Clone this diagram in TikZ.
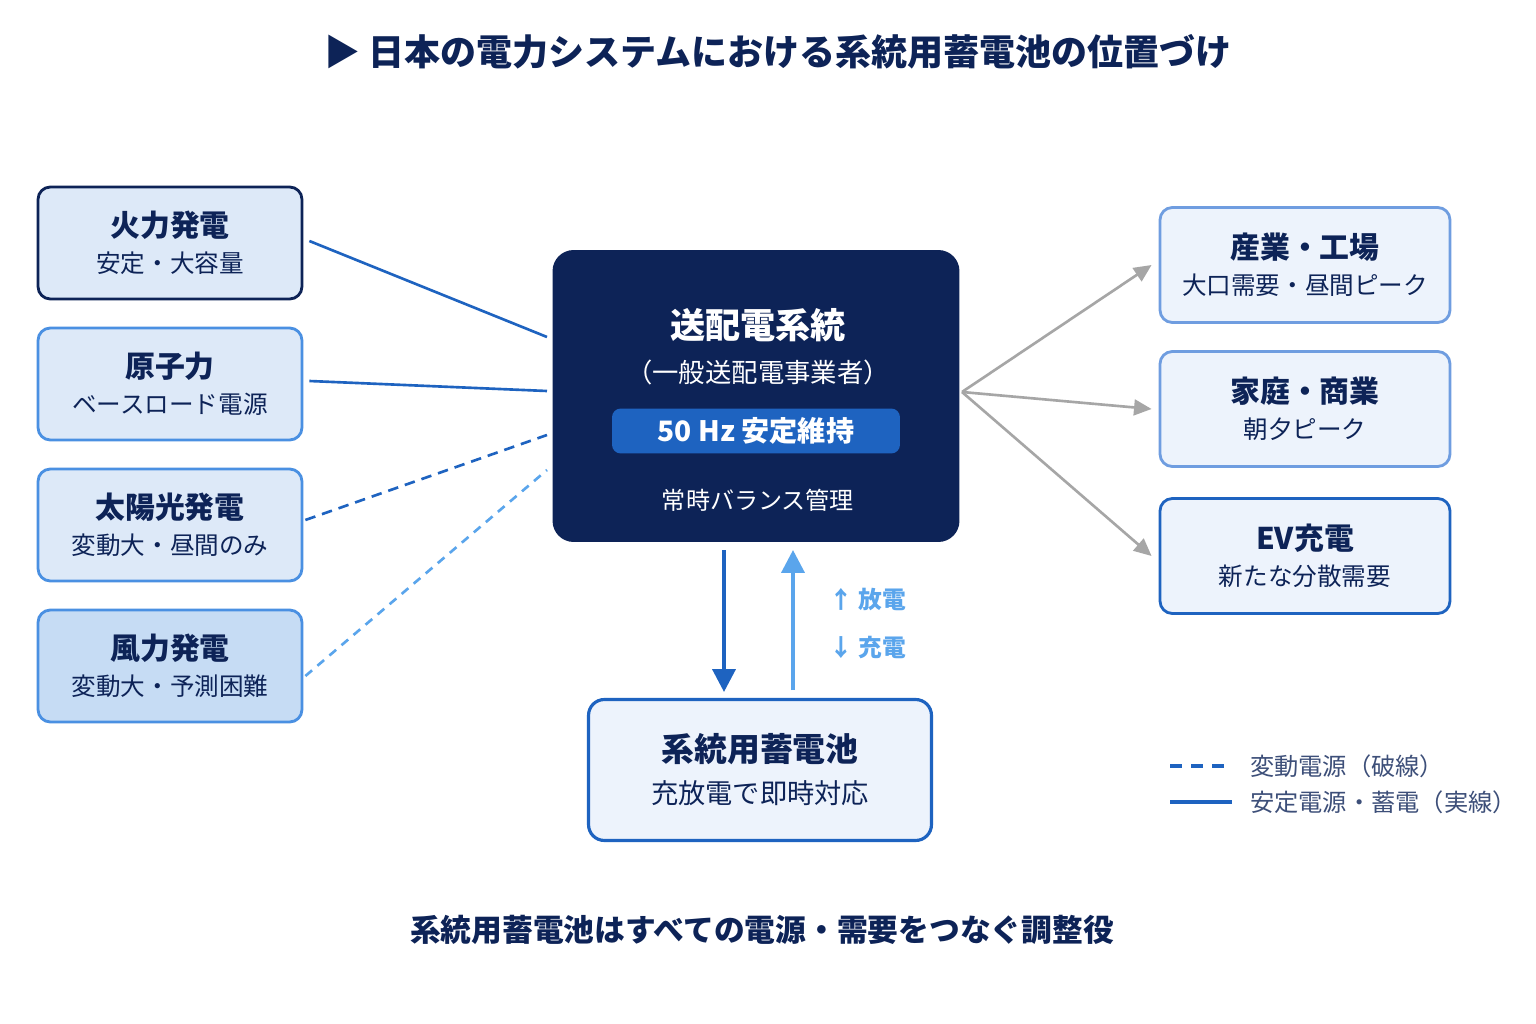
\documentclass[tikz,border=0pt]{standalone}
\usepackage{fontspec}
\setmainfont{Noto Sans CJK JP}
\usetikzlibrary{arrows.meta,positioning}
\definecolor{navy}{HTML}{0D2357}
\definecolor{blueA}{HTML}{1E63C0}
\definecolor{blueB}{HTML}{4A90E2}
\definecolor{blueC}{HTML}{5AA5EC}
\definecolor{fillL}{HTML}{DDE9F8}
\definecolor{fillW}{HTML}{C6DCF4}
\definecolor{fillR}{HTML}{EDF3FC}
\definecolor{edgeR}{HTML}{6F9DE0}
\definecolor{grayA}{HTML}{A6A6A6}
\begin{document}
\begin{tikzpicture}[x=0.02cm,y=-0.02cm,
    src/.style={draw=blueB, line width=1.6pt, fill=fillL, rounded corners=7pt,
      minimum width=5.28cm, minimum height=2.24cm, align=center, text=navy},
    dmd/.style={draw=edgeR, line width=1.6pt, fill=fillR, rounded corners=7pt,
      minimum width=5.8cm, minimum height=2.3cm, align=center, text=navy},
    feed/.style={line width=1.5pt},
    dmdarrow/.style={draw=grayA, line width=1.5pt, -{Triangle[length=10pt,width=9pt]}}
    ]
\useasboundingbox[fill=white] (0,0) rectangle (1536,1024);
% title
\node[text=navy, font=\fontsize{20.5}{24}\selectfont\bfseries] (title) at (778,52) {▶ 日本の電力システムにおける系統用蓄電池の位置づけ};
% sources
\node[src, draw=navy] (fire) at (170,243) {{\fontsize{17}{20}\selectfont\bfseries 火力発電}\\[6pt]{\fontsize{14}{16}\selectfont 安定・大容量}};
\node[src] (nuc) at (170,384) {{\fontsize{17}{20}\selectfont\bfseries 原子力}\\[6pt]{\fontsize{14}{16}\selectfont ベースロード電源}};
\node[src] (sun) at (170,525) {{\fontsize{17}{20}\selectfont\bfseries 太陽光発電}\\[6pt]{\fontsize{14}{16}\selectfont 変動大・昼間のみ}};
\node[src, fill=fillW] (wind) at (170,666) {{\fontsize{17}{20}\selectfont\bfseries 風力発電}\\[6pt]{\fontsize{14}{16}\selectfont 変動大・予測困難}};
% grid
\node[fill=navy, rounded corners=12pt, minimum width=8.14cm, minimum height=5.84cm] (grid) at (756,396) {};
\node[text=white, font=\fontsize{20}{24}\selectfont\bfseries] (gname) at (758,325) {送配電系統};
\node[text=white, font=\fontsize{15}{18}\selectfont] (gsub) at (758,372) {（一般送配電事業者）};
\node[fill=blueA, rounded corners=5pt, minimum width=5.76cm, minimum height=0.9cm, text=white,
  font=\fontsize{16}{19}\selectfont\bfseries] (hz) at (756,431) {50 Hz 安定維持};
\node[text=white, font=\fontsize{13.7}{16}\selectfont] (bal) at (758,500) {常時バランス管理};
% demand
\node[dmd] (ind) at (1305,265) {{\fontsize{17}{20}\selectfont\bfseries 産業・工場}\\[6pt]{\fontsize{14}{16}\selectfont 大口需要・昼間ピーク}};
\node[dmd] (home) at (1305,409) {{\fontsize{17}{20}\selectfont\bfseries 家庭・商業}\\[6pt]{\fontsize{14}{16}\selectfont 朝夕ピーク}};
\node[dmd, draw=blueA] (ev) at (1305,556) {{\fontsize{17}{20}\selectfont\bfseries EV充電}\\[6pt]{\fontsize{14}{16}\selectfont 新たな分散需要}};
% battery
\node[draw=blueA, line width=1.8pt, fill=fillR, rounded corners=9pt, minimum width=6.86cm,
  minimum height=2.82cm, align=center, text=navy] (bat) at (760,770)
  {{\fontsize{18.7}{22}\selectfont\bfseries 系統用蓄電池}\\[8pt]{\fontsize{15.5}{18}\selectfont 充放電で即時対応}};
% feeds
\coordinate (g1) at (547,337); \coordinate (g2) at (547,391);
\coordinate (g3) at (547,435); \coordinate (g4) at (547,470);
\draw[feed, blueA] (fire.east) ++(6,-2) -- (g1);
\draw[feed, blueA] (nuc.east) ++(6,-3) -- (g2);
\draw[feed, blueA, dash pattern=on 6pt off 4pt] (sun.east) ++(2,-5) -- (g3);
\draw[feed, blueC, dash pattern=on 5pt off 4pt] (wind.east) ++(2,10) -- (g4);
% outputs
\coordinate (hub) at (962,392);
\draw[dmdarrow] (hub) -- ([xshift=-4]ind.west);
\draw[dmdarrow] (hub) -- ([xshift=-4]home.west);
\draw[dmdarrow] (hub) -- ([xshift=-4]ev.west);
% charge / discharge
\coordinate (dtop) at (724,550); \coordinate (utop) at (793,550);
\draw[blueA, line width=2.2pt, -{Triangle[length=13pt,width=13pt]}] (dtop) -- (724,692);
\draw[blueC, line width=2.2pt, -{Triangle[length=13pt,width=13pt]}] (793,690) -- (utop);
\node[text=blueC, font=\fontsize{13.5}{16}\selectfont\bfseries] (dis) at (868,600) {↑ 放電};
\node[text=blueC, font=\fontsize{13.5}{16}\selectfont\bfseries] (chg) at (868,648) {↓ 充電};
% legend
\coordinate (l1) at (1170,766); \coordinate (l2) at (1232,766);
\coordinate (l3) at (1170,802); \coordinate (l4) at (1232,802);
\draw[blueA, line width=2.2pt, dash pattern=on 7pt off 5pt] (l1) -- (l2);
\draw[blueA, line width=2.4pt] (l3) -- (l4);
\node[anchor=west, text=navy!80, font=\fontsize{13.8}{16}\selectfont] (leg1) at (1244,766) {変動電源（破線）};
\node[anchor=west, text=navy!80, font=\fontsize{13.8}{16}\selectfont] (leg2) at (1244,802) {安定電源・蓄電（実線）};
% footer
\node[text=navy, font=\fontsize{17.5}{20}\selectfont\bfseries] (foot) at (762,930) {系統用蓄電池はすべての電源・需要をつなぐ調整役};
\end{tikzpicture}
\end{document}
